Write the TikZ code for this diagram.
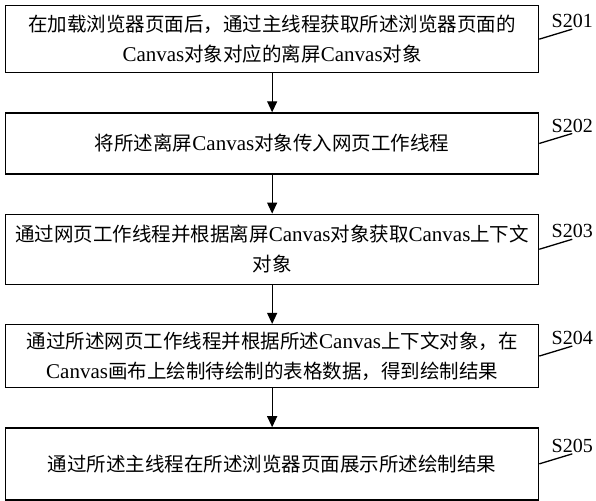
\documentclass[tikz,border=0pt]{standalone}
\usepackage{fontspec}
\setmainfont{Noto Sans CJK SC}
\newfontfamily\latfont{Liberation Serif}
\usetikzlibrary{positioning, arrows.meta, calc}
\newcommand{\lat}[1]{{\latfont\fontsize{21pt}{29pt}\selectfont #1}}

\begin{document}
\begin{tikzpicture}[node distance=39pt]
      \tikzset{stepbox/.style={draw,line width=1.3pt,minimum width=533pt,align=center,inner sep=0pt,font=\fontsize{19.5pt}{30pt}\selectfont}, steplbl/.style={font=\latfont\fontsize{20pt}{24pt}\selectfont,inner sep=1pt,anchor=south}, flow/.style={-{Triangle[length=11pt,width=10pt]},line width=1.2pt}, leader/.style={line width=1.3pt}}
      \useasboundingbox (0,0) rectangle (596pt,-500pt);
      \node[stepbox,minimum height=67pt,anchor=north west] (s1) at (5pt,-5pt) {在加载浏览器页面后，通过主线程获取所述浏览器页面的\\\lat{Canvas}对象对应的离屏\lat{Canvas}对象};
      \node[stepbox,minimum height=61pt,below=of s1] (s2) {将所述离屏\lat{Canvas}对象传入网页工作线程};
      \node[stepbox,minimum height=70pt,below=of s2] (s3) {通过网页工作线程并根据离屏\lat{Canvas}对象获取\lat{Canvas}上下文\\对象};
      \node[stepbox,minimum height=63pt,below=of s3] (s4) {通过所述网页工作线程并根据所述\lat{Canvas}上下文对象，在\\\lat{Canvas}画布上绘制待绘制的表格数据，得到绘制结果};
      \node[stepbox,minimum height=72pt,below=of s4] (s5) {通过所述主线程在所述浏览器页面展示所述绘制结果};
      \draw[flow] (s1)--(s2); \draw[flow] (s2)--(s3); \draw[flow] (s3)--(s4); \draw[flow] (s4)--(s5);
      \foreach \i in {1,...,5} {\node[steplbl] (l\i) at ($(s\i.east)+(33pt,10pt)$) {S20\i}; \draw[leader] (s\i.east)--(l\i.south);}
    \end{tikzpicture}
\end{document}
